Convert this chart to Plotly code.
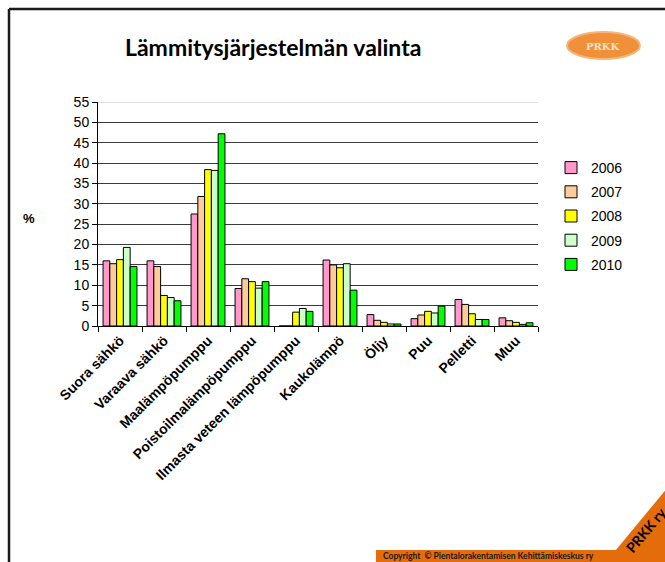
import plotly.graph_objects as go

categories = ["Suora sähkö", "Varaava sähkö", "Maalämpöpumppu", "Poistoilmalämpöpumppu",
              "Ilmasta veteen lämpöpumppu", "Kaukolämpö", "Öljy", "Puu", "Pelletti", "Muu"]
years = ["2006", "2007", "2008", "2009", "2010"]
v2006 = [16.0, 16.0, 27.5, 9.2, 0.0, 16.2, 2.8, 1.8, 6.5, 2.0]
v2007 = [15.3, 14.6, 31.8, 11.6, 0.0, 15.0, 1.4, 2.7, 5.3, 1.3]
v2008 = [16.3, 7.5, 38.4, 10.9, 3.4, 14.3, 0.9, 3.6, 3.0, 0.9]
v2009 = [19.3, 7.0, 38.2, 9.3, 4.3, 15.3, 0.5, 3.2, 1.6, 0.4]
v2010 = [14.6, 6.2, 47.2, 10.9, 3.6, 8.8, 0.5, 4.9, 1.6, 0.8]
series = [v2006, v2007, v2008, v2009, v2010]
colors = ["#FF99CC", "#FFCC99", "#FFFF00", "#CCFFCC", "#00FF00"]
y_ticks = list(range(0, 56, 5))

W, H = 665, 562
L, R, T, B = 98, 538, 102, 326


def px(x):
    return (x - L) / (R - L)


def py(y):
    return (B - y) / (B - T)


fig = go.Figure()
for name, vals, col in zip(years, series, colors):
    fig.add_trace(go.Bar(x=categories, y=vals, name=name, legendgroup=name,
                         marker=dict(color=col, line=dict(color="#000000", width=1))))

ORANGE = "#E46C0A"
shapes = [
    # slide border
    dict(type="line", xref="paper", yref="paper", x0=px(9), x1=px(670), y0=py(9), y1=py(9),
         line=dict(color="#1a1a1a", width=2.5)),
    dict(type="line", xref="paper", yref="paper", x0=px(9), x1=px(9), y0=py(9), y1=py(570),
         line=dict(color="#1a1a1a", width=2.5)),
    # lighter top line at 55
    dict(type="line", xref="paper", yref="y", x0=0, x1=1, y0=55, y1=55,
         line=dict(color="#D4D4D4", width=1.5), layer="above"),
    # bottom orange bar
    dict(type="rect", xref="paper", yref="paper", x0=px(376), x1=px(670), y0=py(550), y1=py(570),
         fillcolor=ORANGE, line=dict(width=0)),
    # triangle corner
    dict(type="path", xref="paper", yref="paper",
         path="M {:.4f},{:.4f} L {:.4f},{:.4f} L {:.4f},{:.4f} Z".format(
             px(606), py(562), px(668), py(487), px(668), py(562)),
         fillcolor=ORANGE, line=dict(width=0)),
    # logo ellipse
    dict(type="circle", xref="paper", yref="paper", x0=px(567), x1=px(640), y0=py(59), y1=py(32),
         fillcolor="#F0913A", line=dict(color="#F6B67A", width=2)),
]


def note(text, x, y, size, family="Lato", color="#000", angle=0):
    return dict(text=text, xref="paper", yref="paper", x=px(x), y=py(y), showarrow=False,
                xanchor="center", yanchor="middle", textangle=angle,
                font=dict(family=family, size=size, color=color))


annotations = [
    note("<b>Lämmitysjärjestelmän valinta</b>", 273, 47, 23),
    note("<b>%</b>", 29, 218, 13, family="Liberation Sans"),
    note("<b>Copyright  © Pientalorakentamisen Kehittämiskeskus ry</b>", 488, 556, 8.5, color="#1a1a1a"),
    note("<b>PRKK ry</b>", 645, 530, 14, angle=-50),
    note("<b>PRKK</b>", 603, 46, 10, family="DejaVu Serif", color="#FBE3C8"),
]

fig.update_layout(
    width=W, height=H,
    margin=dict(l=L, r=W - R, t=T, b=H - B, autoexpand=False),
    paper_bgcolor="white", plot_bgcolor="white",
    barmode="group", bargap=0.23, bargroupgap=0,
    font=dict(family="Liberation Sans", color="#000"),
    showlegend=True,
    legend=dict(x=px(551), y=py(152), xanchor="left", yanchor="top",
                font=dict(family="Liberation Sans", size=14), tracegroupgap=3,
                bgcolor="rgba(0,0,0,0)"),
    shapes=shapes, annotations=annotations,
    xaxis=dict(showline=True, linecolor="#000", linewidth=1, ticks="outside", ticklen=5,
               tickson="boundaries", tickcolor="#000", tickangle=-45,
               tickfont=dict(family="Liberation Sans", size=14, weight="bold"),
               showgrid=False),
    yaxis=dict(range=[0, 55], tickvals=y_ticks, showline=True, linecolor="#000", linewidth=1,
               ticks="outside", ticklen=5, tickcolor="#000", gridcolor="#3a3a3a", gridwidth=1,
               tickfont=dict(family="Liberation Sans", size=14), zeroline=False),
)

fig.write_html("out.html", config={"displayModeBar": False},
               post_script="document.body.style.margin='0px';document.body.style.overflow='hidden';")
